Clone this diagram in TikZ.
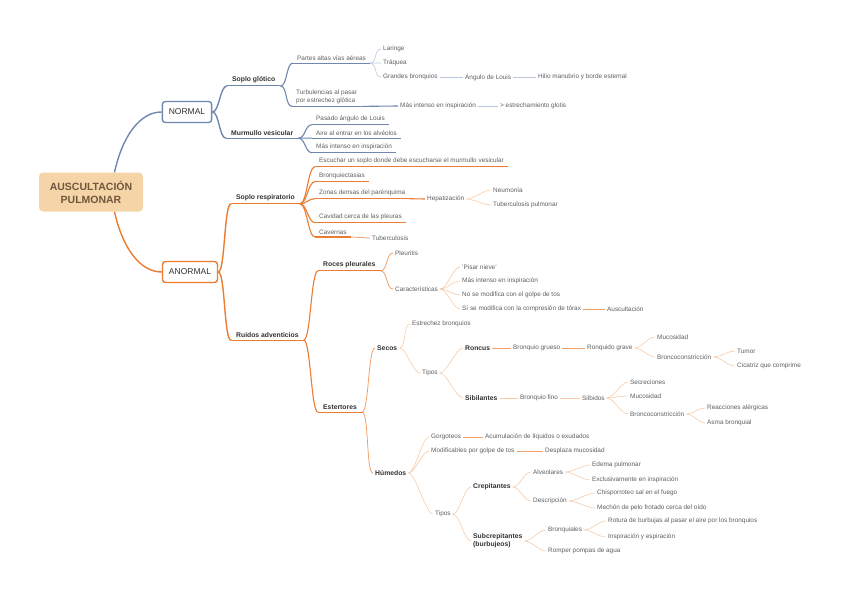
\documentclass[tikz,border=0pt]{standalone}
\usepackage{fontspec}
\setmainfont{Liberation Sans}
\usetikzlibrary{positioning}
\definecolor{rootfill}{RGB}{245,213,168}
\definecolor{roottxt}{RGB}{112,86,60}
\definecolor{blueln}{RGB}{112,136,176}
\definecolor{bluelt}{RGB}{188,200,222}
\definecolor{orgln}{RGB}{236,124,50}
\definecolor{orgmd}{RGB}{242,160,105}
\definecolor{orglt}{RGB}{248,204,170}
\definecolor{inkdark}{RGB}{50,50,50}
\definecolor{inkgray}{RGB}{95,95,95}

\begin{document}
\begin{tikzpicture}[x=1pt, y=-1pt,
  root/.style={fill=rootfill, rounded corners=4pt, minimum width=104pt, minimum height=39pt, align=center, text=roottxt, font=\bfseries\fontsize{10.5}{13}\selectfont},
  main/.style={draw=#1, line width=1.4pt, fill=white, rounded corners=3pt, inner xsep=6.5pt, minimum height=21pt, text=inkdark, font=\fontsize{8.5}{10}\selectfont},
  sub/.style={anchor=west, inner xsep=4pt, inner ysep=2.5pt, align=left, text=inkgray, font=\fontsize{6.4}{7.4}\selectfont,
    append after command={(\tikzlastnode.south west) edge[draw=#1, line width=1.1pt] (\tikzlastnode.south east)}},
  subb/.style={sub=#1, inner xsep=5pt, text=inkdark, font=\bfseries\fontsize{6.8}{7.8}\selectfont},
  leaf/.style={anchor=west, inner xsep=2pt, inner ysep=1pt, align=left, text=inkgray, font=\fontsize{6.4}{7.4}\selectfont},
  leafb/.style={leaf, text=inkdark, font=\bfseries\fontsize{6.8}{7.8}\selectfont},
  curvy/.style={to path={.. controls +(7,0) and +(-7,0) .. (\tikztotarget)}},
  bl1/.style={draw=blueln, line width=1.4pt},
  bl2/.style={draw=blueln, line width=1.1pt},
  bl3/.style={draw=bluelt, line width=0.6pt},
  or1/.style={draw=orgln, line width=1.4pt},
  or2/.style={draw=orgln, line width=1.1pt},
  or3/.style={draw=orgmd, line width=0.8pt},
  or4/.style={draw=orglt, line width=0.6pt}]
\fill[white] (0,0) rectangle (848,599);
\useasboundingbox (0,0) rectangle (848,599);

\node[root] (root) at (91,192) {AUSCULTACIÓN\\PULMONAR};
\node[main=blueln] (normal) at (187,112) {NORMAL};
\node[main=orgln] (anormal) at (190,272) {ANORMAL};

\node[subb=blueln] (sg) at (227,80) {Soplo glótico};
\node[subb=blueln] (mv) at (226,133) {Murmullo vesicular};
\node[subb=orgln] (sr) at (231,198) {Soplo respiratorio};
\node[subb=orgln] (ra) at (231,335) {Ruidos adventicios};

% normal
\node[sub=blueln] (pa) at (293,58) {Partes altas vías aéreas};
\node[sub=blueln] (tu) at (292,97) {Turbulencias al pasar\\por estrechez glótica};
\node[sub=blueln] (pl) at (312,119) {Pasado ángulo de Louis};
\node[sub=blueln] (ai) at (312,133) {Aire al entrar en los alvéolos};
\node[sub=blueln] (mi) at (312,147) {Más intenso en inspiración};
\node[leaf] (la) at (381,49) {Laringe};
\node[leaf] (tq) at (381,63) {Tráquea};
\node[leaf] (gb) at (381,77) {Grandes bronquios};
\node[leaf] (an) at (463,77) {Ángulo de Louis};
\node[leaf] (hi) at (536,77) {Hilio manubrio y borde esternal};
\node[leaf] (me) at (398,106) {Más intenso en inspiración};
\node[leaf] (eg) at (498,106) {> estrechamiento glotis};

% soplo respiratorio
\node[sub=orgln] (es) at (315,161) {Escuchar un soplo donde debe escucharse el murmullo vesicular};
\node[sub=orgln] (bq) at (315,176) {Bronquiectasias};
\node[sub=orgln] (zd) at (315,193) {Zonas densas del parénquima};
\node[sub=orgln] (cd) at (315,217) {Cavidad cerca de las pleuras};
\node[sub=orgln] (ca) at (315,232) {Cavernas};
\node[leaf] (he) at (425,199) {Hepatización};
\node[leaf] (ne) at (491,190) {Neumonía};
\node[leaf] (tp) at (491,205) {Tuberculosis pulmonar};
\node[leaf] (tb) at (370,238) {Tuberculosis};

% ruidos adventicios
\node[subb=orgln] (rp) at (318,265) {Roces pleurales};
\node[subb=orgln] (et) at (318,407) {Estertores};
\node[leaf] (pt) at (393,253) {Pleuritis};
\node[leaf] (ct) at (393,289) {Características};
\node[leaf] (pn) at (460,267) {‘Pisar nieve’};
\node[leaf] (mi3) at (460,281) {Más intenso en inspiración};
\node[leaf] (nm) at (460,295) {No se modifica con el golpe de tos};
\node[leaf] (sm) at (460,309) {Sí se modifica con la compresión de tórax};
\node[leaf] (au) at (605,309) {Auscultación};

\node[leafb] (se) at (375,348) {Secos};
\node[leaf] (eb) at (410,324) {Estrechez bronquios};
\node[leaf] (ti) at (420,373) {Tipos};
\node[leafb] (ro) at (463,348) {Roncus};
\node[leaf] (bg) at (511,348) {Bronquio grueso};
\node[leaf] (rg) at (585,348) {Ronquido grave};
\node[leaf] (mu) at (655,337) {Mucosidad};
\node[leaf] (bc) at (655,357) {Broncoconstricción};
\node[leaf] (tm) at (735,351) {Tumor};
\node[leaf] (cq) at (735,366) {Cicatriz que comprime};
\node[leafb] (si) at (463,398) {Sibilantes};
\node[leaf] (bf) at (518,398) {Bronquio fino};
\node[leaf] (sb) at (580,398) {Silbidos};
\node[leaf] (sc) at (628,382) {Secreciones};
\node[leaf] (mu2) at (628,396) {Mucosidad};
\node[leaf] (bc2) at (628,414) {Broncoconstricción};
\node[leaf] (rl) at (705,408) {Reacciones alérgicas};
\node[leaf] (ab) at (705,423) {Asma bronquial};

\node[leafb] (hu) at (373,473) {Húmedos};
\node[leaf] (go) at (429,437) {Gorgoteos};
\node[leaf] (ac) at (483,437) {Acumulación de líquidos o exudados};
\node[leaf] (mg) at (429,451) {Modificables por golpe de tos};
\node[leaf] (dm) at (543,451) {Desplaza mucosidad};
\node[leaf] (ti2) at (433,514) {Tipos};
\node[leafb] (cr) at (471,487) {Crepitantes};
\node[leafb] (su) at (471,541) {Subcrepitantes\\(burbujeos)};
\node[leaf] (al) at (531,472) {Alveolares};
\node[leaf] (de) at (531,501) {Descripción};
\node[leaf] (ep) at (590,465) {Edema pulmonar};
\node[leaf] (ex) at (590,480) {Exclusivamente en inspiración};
\node[leaf] (ch) at (595,493) {Chisporroteo sal en el fuego};
\node[leaf] (mc) at (595,508) {Mechón de pelo frotado cerca del oído};
\node[leaf] (br) at (546,530) {Bronquiales};
\node[leaf] (rm) at (546,551) {Romper pompas de agua};
\node[leaf] (rb) at (606,521) {Rotura de burbujas al pasar el aire por los bronquios};
\node[leaf] (ie) at (606,537) {Inspiración y espiración};

% connectors
\draw[bl1] (root.40) .. controls +(8,-36) and +(-22,0) .. (normal.west);
\draw[or1] (root.-40) .. controls +(8,36) and +(-22,0) .. (anormal.west);
\draw[bl1, curvy] (normal.east) to (sg.south west);
\draw[bl1, curvy] (normal.east) to (mv.south west);
\draw[or1, curvy] (anormal.east) to (sr.south west);
\draw[or1, curvy] (anormal.east) to (ra.south west);

\foreach \c in {pa, tu} \draw[bl2, curvy] (sg.south east) to (\c.south west);
\foreach \c in {pl, ai, mi} \draw[bl2, curvy] (mv.south east) to (\c.south west);
\foreach \c in {la, tq, gb} \draw[bl3, curvy] (pa.south east) to (\c.west);
\draw[bl2] (tu.south east) -- (me.west);
\draw[bl3] (gb.east) -- (an.west);
\draw[bl3] (an.east) -- (hi.west);
\draw[bl3] (me.east) -- (eg.west);

\foreach \c in {es, bq, zd, cd, ca} \draw[or2, curvy] (sr.south east) to (\c.south west);
\draw[or2] (zd.south east) -- (he.west);
\foreach \c in {ne, tp} \draw[or4, curvy] (he.east) to (\c.west);
\draw[or3] (ca.south east) -- (tb.west);

\foreach \c in {rp, et} \draw[or2, curvy] (ra.south east) to (\c.south west);
\foreach \c in {pt, ct} \draw[or3, curvy] (rp.south east) to (\c.west);
\foreach \c in {pn, mi3, nm, sm} \draw[or4, curvy] (ct.east) to (\c.west);
\draw[or3] (sm.east) -- (au.west);

\foreach \c in {se, hu} \draw[or3, curvy] (et.south east) to (\c.west);
\foreach \c in {eb, ti} \draw[or4, curvy] (se.east) to (\c.west);
\foreach \c in {ro, si} \draw[or4, curvy] (ti.east) to (\c.west);
\draw[or3] (ro.east) -- (bg.west);
\draw[or3] (bg.east) -- (rg.west);
\foreach \c in {mu, bc} \draw[or4, curvy] (rg.east) to (\c.west);
\foreach \c in {tm, cq} \draw[or4, curvy] (bc.east) to (\c.west);
\draw[or4] (si.east) -- (bf.west);
\draw[or4] (bf.east) -- (sb.west);
\foreach \c in {sc, mu2, bc2} \draw[or4, curvy] (sb.east) to (\c.west);
\foreach \c in {rl, ab} \draw[or4, curvy] (bc2.east) to (\c.west);

\foreach \c in {go, mg, ti2} \draw[or4, curvy] (hu.east) to (\c.west);
\draw[or3] (go.east) -- (ac.west);
\draw[or3] (mg.east) -- (dm.west);
\foreach \c in {cr, su} \draw[or4, curvy] (ti2.east) to (\c.west);
\foreach \c in {al, de} \draw[or4, curvy] (cr.east) to (\c.west);
\foreach \c in {ep, ex} \draw[or4, curvy] (al.east) to (\c.west);
\foreach \c in {ch, mc} \draw[or4, curvy] (de.east) to (\c.west);
\foreach \c in {br, rm} \draw[or4, curvy] (su.east) to (\c.west);
\foreach \c in {rb, ie} \draw[or4, curvy] (br.east) to (\c.west);
\end{tikzpicture}
\end{document}
